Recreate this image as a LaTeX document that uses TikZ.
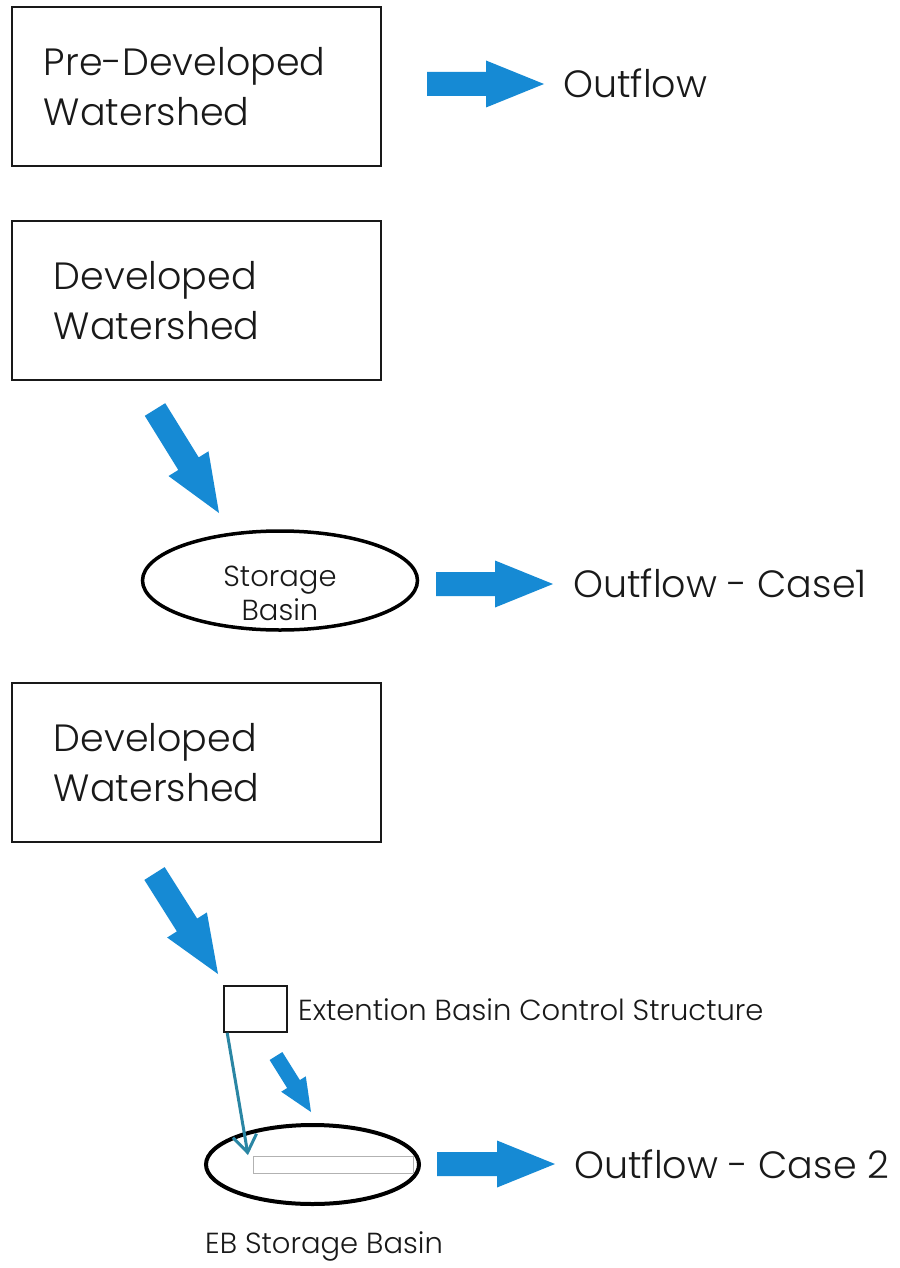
\documentclass[tikz,border=0pt]{standalone}
\usepackage{fontspec}
\setmainfont{Poppins Light}
\usetikzlibrary{shapes.geometric,calc,arrows.meta}
\definecolor{flowblue}{RGB}{22,138,212}
\definecolor{tealline}{RGB}{42,134,164}
\definecolor{inkc}{RGB}{25,25,25}
% #1 tail, #2 tip, #3 half shaft width, #4 half head width, #5 head length
\newcommand\flowarrow[5]{%
  \path ($(#2)!#5!(#1)$) coordinate (fa-base);
  \fill[flowblue] ($(#1)!#3!90:(#2)$) -- ($(fa-base)!#3!90:(#2)$) -- ($(fa-base)!#4!90:(#2)$) -- (#2)
     -- ($(fa-base)!#4!-90:(#2)$) -- ($(fa-base)!#3!-90:(#2)$) -- ($(#1)!#3!-90:(#2)$) -- cycle;}
\tikzset{
  wbox/.style={draw=inkc, line width=1.8pt, minimum width=369pt, minimum height=159pt,
    inner ysep=0pt, align=left, text=inkc, font=\fontsize{38}{50}\selectfont, anchor=north west},
  basin/.style={ellipse, draw=black, line width=3.5pt, inner sep=0pt},
  txt/.style={inner sep=0pt, text=inkc, anchor=base west},
}
\begin{document}
\begin{tikzpicture}[x=1pt,y=-1pt]
\fill[white] (0,0) rectangle (899,1268);
\useasboundingbox (0,0) rectangle (899,1268);

% ---- Pre-developed
\node[wbox, inner xsep=32pt, text width=305pt] (pre) at (11,6) {Pre-Developed\\Watershed};
\coordinate (a1t) at (427,84);
\coordinate (a1h) at (544,84);
\flowarrow{a1t}{a1h}{12pt}{23.5pt}{58pt}
\node[txt, font=\fontsize{38}{44}\selectfont] (out0) at (563,98) {Outflow};

% ---- Developed case 1
\node[wbox, inner xsep=42pt, text width=285pt] (dev1) at (11,220) {Developed\\Watershed};
\coordinate (d1t) at (155,409.5);
\coordinate (d1h) at (219,513);
\flowarrow{d1t}{d1h}{12pt}{23.5pt}{58pt}
\node[basin, minimum width=275pt, minimum height=99pt] (sb) at (280,580.5) {};
\node[inner sep=0pt, text=inkc, align=center, font=\fontsize{29}{34}\selectfont] (sblabel) at (280,593) {Storage\\Basin};
\coordinate (a2t) at (436,584);
\coordinate (a2h) at (553,584);
\flowarrow{a2t}{a2h}{12pt}{23.5pt}{58pt}
\node[txt, font=\fontsize{38}{44}\selectfont] (out1) at (573,597) {Outflow - Case1};

% ---- Developed case 2
\node[wbox, inner xsep=42pt, text width=285pt] (dev2) at (11,682) {Developed\\Watershed};
\coordinate (d2t) at (154.5,873.5);
\coordinate (d2h) at (218,974);
\flowarrow{d2t}{d2h}{12pt}{23.5pt}{58pt}
\node[draw=inkc, line width=1.6pt, minimum width=63pt, minimum height=46pt, inner sep=0pt] (ctrl) at (255.5,1009) {};
\node[txt, font=\fontsize{29}{33}\selectfont] (ctrllabel) at (298,1020) {Extention Basin Control Structure};
\coordinate (s1t) at (276,1056);
\coordinate (s1h) at (311,1112);
\flowarrow{s1t}{s1h}{7.5pt}{14.5pt}{33pt}
\node[basin, line width=4pt, minimum width=213pt, minimum height=79pt] (eb) at (312.5,1164.5) {};
\node[draw=gray!60, line width=1pt, minimum width=160pt, minimum height=17pt, inner sep=0pt] (ebslot) at (333,1164.5) {};
\coordinate (ebtip) at (248,1155);
\draw[tealline, line width=3pt, -{Straight Barb[length=17pt,width=24pt]}] ([xshift=4pt]ctrl.south west) -- (ebtip);
\coordinate (a3t) at (437,1164);
\coordinate (a3h) at (555,1164);
\flowarrow{a3t}{a3h}{12pt}{23.5pt}{58pt}
\node[txt, font=\fontsize{38}{44}\selectfont] (out2) at (574,1178) {Outflow - Case 2};
\node[txt, font=\fontsize{29}{33}\selectfont] (eblabel) at (205,1253) {EB Storage Basin};
\end{tikzpicture}
\end{document}
